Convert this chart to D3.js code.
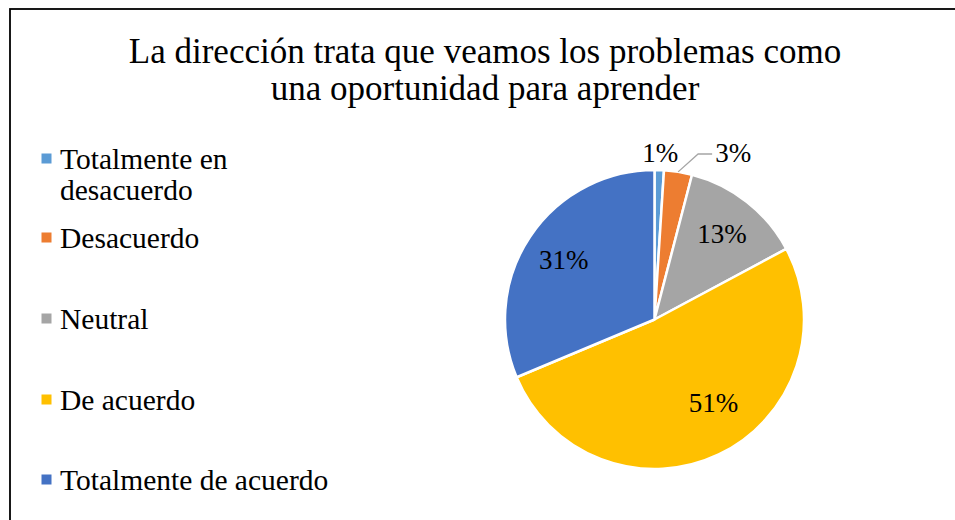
<!DOCTYPE html>
<html>
<head>
<meta charset="utf-8">
<script src="https://cdn.jsdelivr.net/npm/d3@7"></script>
<style>
  body { margin: 0; background: #fff; }
  svg { display: block; }
  text { font-family: "Liberation Serif", "Times New Roman", serif; fill: #000; }
</style>
</head>
<body>
<script>
// data
var categories = ["Totalmente en desacuerdo", "Desacuerdo", "Neutral", "De acuerdo", "Totalmente de acuerdo"];
var values = [1, 3, 13, 51, 31];
var colors = ["#5B9BD5", "#ED7D31", "#A5A5A5", "#FFC000", "#4472C4"];
var titleLines = ["La dirección trata que veamos los problemas como", "una oportunidad para aprender"];
// legend text wrapped like the original
var legendLines = [["Totalmente en", "desacuerdo"], ["Desacuerdo"], ["Neutral"], ["De acuerdo"], ["Totalmente de acuerdo"]];

var width = 955, height = 520;
var cx = 654.5, cy = 319.5, radius = 149.5;

var svg = d3.select("body").append("svg")
    .attr("width", width)
    .attr("height", height);

// chart frame (runs past the window on right and bottom)
svg.append("rect")
    .attr("x", 10)
    .attr("y", 9)
    .attr("width", 1000)
    .attr("height", 600)
    .attr("fill", "#fff")
    .attr("stroke", "#000")
    .attr("stroke-width", 1.8);

// title
svg.append("g").selectAll("text")
    .data(titleLines)
    .enter()
    .append("text")
    .attr("x", 485)
    .attr("y", function(d, i) { return 63 + i * 37; })
    .attr("text-anchor", "middle")
    .style("font-size", "35px")
    .text(function(d) { return d; });

// legend
var legendY = [169, 248, 329, 410, 490];
var legend = svg.append("g").selectAll("g")
    .data(categories)
    .enter()
    .append("g")
    .attr("transform", function(d, i) { return "translate(0," + legendY[i] + ")"; });

legend.append("rect")
    .attr("x", 41.5)
    .attr("y", -15.5)
    .attr("width", 10)
    .attr("height", 10)
    .attr("fill", function(d, i) { return colors[i]; });

legend.append("text")
    .attr("x", 60)
    .style("font-size", "29.5px")
    .selectAll("tspan")
    .data(function(d, i) { return legendLines[i]; })
    .enter()
    .append("tspan")
    .attr("x", 60)
    .attr("dy", function(d, j) { return j === 0 ? 0 : 31; })
    .text(function(d) { return d; });

// pie
var pie = d3.pie().sort(null).value(function(d) { return d; });
var arcs = pie(values);

var arc = d3.arc().innerRadius(0).outerRadius(radius);
var labelArc = d3.arc().innerRadius(radius * 0.73).outerRadius(radius * 0.73);
var edgeArc = d3.arc().innerRadius(radius).outerRadius(radius);

var g = svg.append("g")
    .attr("transform", "translate(" + cx + "," + cy + ")");

g.selectAll(".slice")
    .data(arcs)
    .enter()
    .append("path")
    .attr("class", "slice")
    .attr("d", arc)
    .attr("fill", function(d, i) { return colors[i]; })
    .attr("stroke", "#fff")
    .attr("stroke-width", 2.5)
    .attr("stroke-linejoin", "round");

// labels inside big slices
var big = arcs.filter(function(d) { return d.value >= 5; });
g.selectAll(".lbl")
    .data(big)
    .enter()
    .append("text")
    .attr("class", "lbl")
    .attr("transform", function(d) {
        var c = labelArc.centroid(d);
        // the big half-slice label sits a bit higher, like the original
        if (d.value > 40) { c = d3.arc().innerRadius(radius * 0.68).outerRadius(radius * 0.68)
            .startAngle(d.startAngle).endAngle(d.endAngle - 0.35).centroid(); }
        return "translate(" + c[0] + "," + c[1] + ")";
    })
    .attr("text-anchor", "middle")
    .attr("dy", "0.35em")
    .style("font-size", "27px")
    .text(function(d) { return d.value + "%"; });

// small slices get labels above the pie, later ones pushed right with a leader line
var small = arcs.filter(function(d) { return d.value < 5; });
var rowY = -radius - 17;
var lastRight = -Infinity;
small.forEach(function(d) {
    var e = edgeArc.centroid(d);
    var ang = (d.startAngle + d.endAngle) / 2;
    var x = (radius + 28) * Math.sin(ang);
    var w = 34;
    if (x - w / 2 < lastRight + 6) {
        // push right and draw leader
        var tx = lastRight + 38;
        var elbow = [e[0] + 20, rowY + 1];
        g.append("polyline")
            .attr("points", [e, elbow, [tx - 3, rowY + 1]].map(function(p) { return p.join(","); }).join(" "))
            .attr("fill", "none")
            .attr("stroke", "#A5A5A5")
            .attr("stroke-width", 1.3);
        g.append("text")
            .attr("x", tx)
            .attr("y", rowY)
            .attr("dy", "0.35em")
            .style("font-size", "27px")
            .text(d.value + "%");
        lastRight = tx + w;
    } else {
        g.append("text")
            .attr("x", x)
            .attr("y", rowY)
            .attr("dy", "0.35em")
            .attr("text-anchor", "middle")
            .style("font-size", "27px")
            .text(d.value + "%");
        lastRight = x + w / 2;
    }
});
</script>
</body>
</html>
